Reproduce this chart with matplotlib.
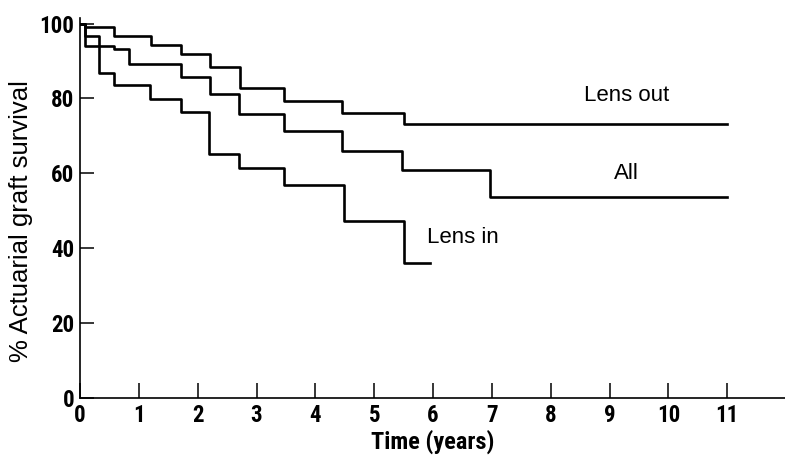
import matplotlib
matplotlib.use("Agg")
import matplotlib.pyplot as plt

# step points (time in years, % survival)
t_out = [0, 0.09, 0.58, 1.2, 1.71, 2.21, 2.72, 3.46, 4.46, 5.5, 11.0]
s_out = [100, 99.2, 96.6, 94.3, 91.9, 88.3, 82.7, 79.2, 76.1, 73.3, 73.3]

t_all = [0, 0.09, 0.57, 0.84, 1.71, 2.21, 2.71, 3.46, 4.46, 5.48, 6.97, 11.0]
s_all = [100, 93.9, 93.3, 89.3, 85.7, 81.3, 75.9, 71.3, 66.1, 60.9, 53.7, 53.7]

t_in = [0, 0.09, 0.33, 0.58, 1.19, 1.71, 2.19, 2.71, 3.47, 4.48, 5.5, 5.95]
s_in = [100, 96.7, 86.7, 83.7, 79.9, 76.4, 65.2, 61.5, 56.8, 47.3, 36.1, 36.1]

x_ticks = list(range(0, 12))
y_ticks = [0, 20, 40, 60, 80, 100]

# condensed faces first if the system has one, else plain sans
narrow = ["Roboto Condensed", "DejaVu Sans Condensed", "Liberation Sans Narrow",
          "Liberation Sans", "DejaVu Sans"]
sans = ["Liberation Sans", "DejaVu Sans"]

fig = plt.figure(figsize=(7.85, 4.57), dpi=100)
ax = fig.add_axes([0.1019, 0.1291, 0.898, 0.8315])

for t, s in [(t_out, s_out), (t_all, s_all), (t_in, s_in)]:
    ax.step(t, s, where="post", color="black", lw=1.9)

ax.text(9.29, 80.8, "Lens out", ha="center", va="center", fontsize=16, family=sans)
ax.text(9.29, 59.9, "All", ha="center", va="center", fontsize=16, family=sans)
ax.text(6.51, 43, "Lens in", ha="center", va="center", fontsize=16, family=sans)

ax.set_xlim(0, 11.98)
ax.set_ylim(0, 101.5)
ax.set_xticks(x_ticks)
ax.set_yticks(y_ticks)
ax.spines["top"].set_visible(False)
ax.spines["right"].set_visible(False)
for sp in ["left", "bottom"]:
    ax.spines[sp].set_linewidth(1.2)
ax.tick_params(direction="in", length=10, width=1.1, pad=4)
ax.tick_params(axis="x", length=11)

for lab in ax.get_xticklabels() + ax.get_yticklabels():
    lab.set_family(narrow)
    lab.set_fontsize(16.5)
    lab.set_fontweight("bold")

ax.set_xlabel("Time (years)", family=narrow, fontsize=17.5, fontweight="bold", labelpad=2)
ax.set_ylabel("% Actuarial graft survival", family=sans, fontsize=18.5)
ax.yaxis.set_label_coords(-0.066, 0.466)

fig.savefig("out.png", dpi=100)
